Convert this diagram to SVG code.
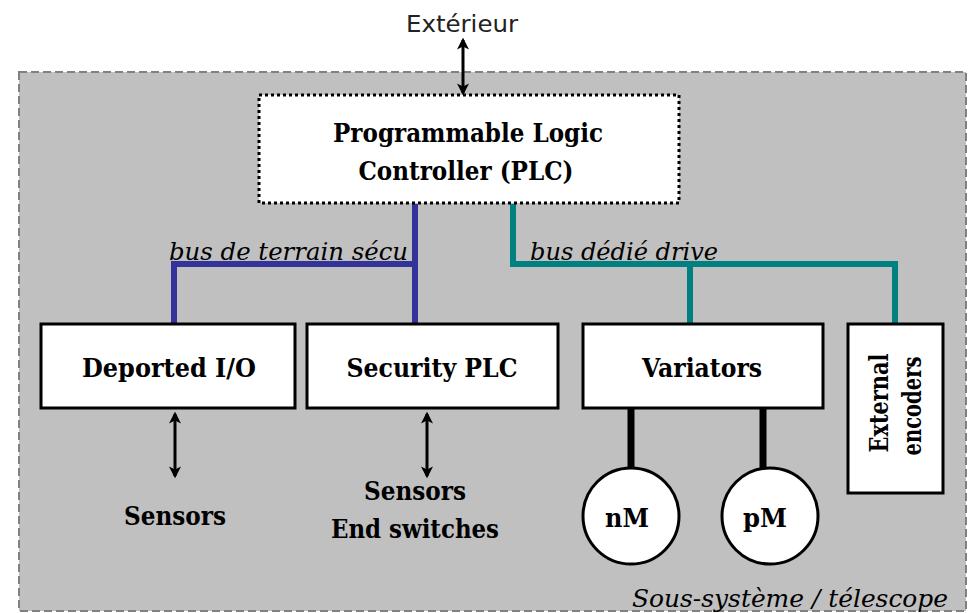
<svg xmlns="http://www.w3.org/2000/svg" width="969" height="613" viewBox="0 0 969 613">
<style>
.lbl{font-family:"DejaVu Serif","Liberation Serif",serif;font-weight:bold;font-size:26px;fill:#000}
.it{font-family:"DejaVu Serif","Liberation Serif",serif;font-style:italic;font-size:24px;fill:#000}
.box{fill:#fff;stroke:#000;stroke-width:3}
.arr{stroke:#000;stroke-width:3;fill:none;marker-start:url(#ah);marker-end:url(#ah)}
.blue{stroke:#333399;stroke-width:6;fill:none}
.teal{stroke:#008080;stroke-width:6;fill:none}
.blk{stroke:#000;stroke-width:7;fill:none}
</style>
<defs>
<marker id="ah" viewBox="0 0 10 10" refX="8" refY="5" markerWidth="4" markerHeight="4" orient="auto-start-reverse" markerUnits="strokeWidth">
<path d="M0,0 L10,5 L0,10 L2.5,5 Z" fill="#000"/>
</marker>
</defs>
<rect width="969" height="613" fill="#fff"/>
<g id="subsystem">
<rect x="19" y="72" width="947" height="539" fill="#c0c0c0" stroke="#808080" stroke-width="2" stroke-dasharray="8,4"/>
<text class="it" x="948" y="607" text-anchor="end" font-size="26" textLength="316" lengthAdjust="spacingAndGlyphs">Sous-système / télescope</text>
</g>
<g id="exterieur">
<text x="462" y="32" text-anchor="middle" font-family="DejaVu Sans, sans-serif" font-size="23" fill="#222" textLength="112" lengthAdjust="spacingAndGlyphs">Extérieur</text>
</g>
<g id="connectors">
<line class="arr" x1="463" y1="40" x2="463" y2="93"/>
<polyline class="blue" points="174,323 174,264 415,264"/>
<line class="blue" x1="415" y1="204" x2="415" y2="323"/>
<polyline class="teal" points="513,204 513,264 895,264 895,323"/>
<line class="teal" x1="690" y1="264" x2="690" y2="323"/>
<line class="arr" x1="175" y1="414" x2="175" y2="476"/>
<line class="arr" x1="427" y1="414" x2="427" y2="476"/>
<line class="blk" x1="631" y1="408" x2="631" y2="469"/>
<line class="blk" x1="763" y1="408" x2="763" y2="469"/>
<text class="it" x="169" y="260" textLength="239" lengthAdjust="spacingAndGlyphs">bus de terrain sécu</text>
<text class="it" x="530" y="260" textLength="188" lengthAdjust="spacingAndGlyphs">bus dédié drive</text>
</g>
<g id="plc">
<rect x="259" y="95" width="420" height="108" fill="#fff" stroke="#000" stroke-width="3" stroke-dasharray="3,3"/>
<text class="lbl" x="468" y="142" text-anchor="middle" textLength="270" lengthAdjust="spacingAndGlyphs">Programmable Logic</text>
<text class="lbl" x="466" y="180" text-anchor="middle" textLength="215" lengthAdjust="spacingAndGlyphs">Controller (PLC)</text>
</g>
<g id="deported-io">
<rect class="box" x="41" y="324" width="254" height="84"/>
<text class="lbl" x="169" y="377" text-anchor="middle" textLength="174" lengthAdjust="spacingAndGlyphs">Deported I/O</text>
</g>
<g id="security-plc">
<rect class="box" x="307" y="324" width="251" height="84"/>
<text class="lbl" x="432" y="377" text-anchor="middle" textLength="171" lengthAdjust="spacingAndGlyphs">Security PLC</text>
</g>
<g id="variators">
<rect class="box" x="583" y="324" width="240" height="84"/>
<text class="lbl" x="702" y="377" text-anchor="middle" textLength="120" lengthAdjust="spacingAndGlyphs">Variators</text>
</g>
<g id="external-encoders">
<rect class="box" x="848" y="324" width="95" height="169"/>
<text class="lbl" transform="translate(888,403) rotate(-90)" text-anchor="middle" textLength="99" lengthAdjust="spacingAndGlyphs">External</text>
<text class="lbl" transform="translate(921,406) rotate(-90)" text-anchor="middle" textLength="99" lengthAdjust="spacingAndGlyphs">encoders</text>
</g>
<g id="sensors-1">
<text class="lbl" x="175" y="525" text-anchor="middle" textLength="102" lengthAdjust="spacingAndGlyphs">Sensors</text>
</g>
<g id="sensors-2">
<text class="lbl" x="415" y="500" text-anchor="middle" textLength="102" lengthAdjust="spacingAndGlyphs">Sensors</text>
<text class="lbl" x="415" y="538" text-anchor="middle" textLength="168" lengthAdjust="spacingAndGlyphs">End switches</text>
</g>
<g id="nM">
<circle cx="631" cy="516" r="48" fill="#fff" stroke="#000" stroke-width="3"/>
<text class="lbl" x="627" y="527" text-anchor="middle" textLength="44" lengthAdjust="spacingAndGlyphs">nM</text>
</g>
<g id="pM">
<circle cx="770" cy="516" r="48" fill="#fff" stroke="#000" stroke-width="3"/>
<text class="lbl" x="765" y="527" text-anchor="middle" textLength="44" lengthAdjust="spacingAndGlyphs">pM</text>
</g>
</svg>
